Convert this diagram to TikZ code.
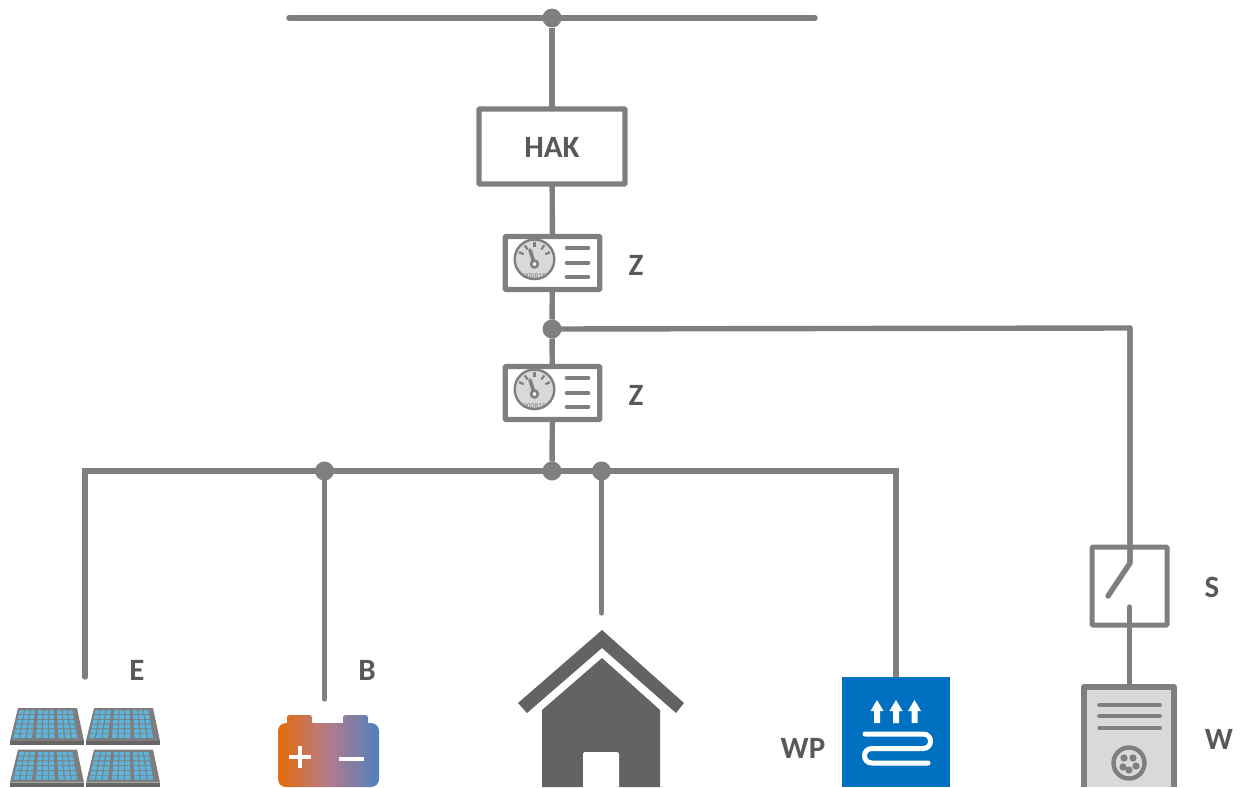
\documentclass[tikz,border=0pt]{standalone}
\usepackage{fontspec}
\setmainfont{Carlito}
\definecolor{wire}{HTML}{7F7F7F}
\definecolor{lbl}{HTML}{595959}
\definecolor{housec}{HTML}{636363}
\definecolor{lightg}{HTML}{D9D9D9}
\definecolor{hpblue}{HTML}{0070C0}
\definecolor{cellb}{HTML}{5DB5DE}
\definecolor{panelg}{HTML}{7E7E7E}
\definecolor{paneld}{HTML}{666666}
\definecolor{batL}{HTML}{E46C0A}
\definecolor{batM}{HTML}{B37B8B}
\definecolor{batR}{HTML}{4F81BD}
\tikzset{
  wireline/.style={draw=wire,line width=5.4pt},
  dot/.style={circle,fill=wire,minimum size=19pt,inner sep=0pt,outer sep=0pt},
  boxnode/.style={draw=wire,line width=5.4pt,fill=white,inner sep=0pt,outer sep=0pt,rounded corners=1pt},
  lab/.style={text=lbl,font=\fontsize{31}{31}\selectfont\bfseries,inner sep=0pt},
  whiteline/.style={draw=white,line width=5pt,line cap=round},
  thinbar/.style={draw=wire,line width=3.6pt,line cap=round},
  meter/.pic={
    \draw[draw=wire,line width=2.4pt,fill=lightg] (-18,-3.7) circle[radius=19.8pt];
    \foreach \a in {-65,-35,0,35,65}
      \draw[draw=wire,line width=2.2pt] ({-18+17*sin(\a)},{-3.7-17*cos(\a)}) -- ({-18+12*sin(\a)},{-3.7-12*cos(\a)});
    \draw[draw=wire,line width=3.6pt,line cap=round] (-18,1) -- (-22.5,-13);
    \draw[draw=wire,line width=2.6pt,fill=white] (-18,1) circle[radius=3.4pt];
    \node[text=wire,font=\fontsize{7.5}{7.5}\selectfont,inner sep=0pt] at (-18,13.2) {000815};
    \foreach \yy in {-15,0,14}
      \draw[thinbar] (14,\yy) -- (36,\yy);
  },
  solar/.pic={
    \fill[panelg] (8,0) -- (67,0) -- (74,33) -- (0,33) -- cycle;
    \fill[paneld] (0,33) rectangle (74,37);
    \foreach \c in {0,...,8} \foreach \r in {0,...,5} {
      \pgfmathsetmacro{\ua}{0.035+(\c*0.092)+floor(\c/3)*0.035}
      \pgfmathsetmacro{\ub}{\ua+0.074}
      \pgfmathsetmacro{\va}{0.07+\r*0.145}
      \pgfmathsetmacro{\vb}{\va+0.115}
      \fill[cellb]
        ({8-8*\va+\ua*(59+15*\va)},{33*\va}) --
        ({8-8*\va+\ub*(59+15*\va)},{33*\va}) --
        ({8-8*\vb+\ub*(59+15*\vb)},{33*\vb}) --
        ({8-8*\vb+\ua*(59+15*\vb)},{33*\vb}) -- cycle;
    }
  },
}
\begin{document}
\begin{tikzpicture}[x=1pt,y=-1pt]
\useasboundingbox (0,0) rectangle (1244,787);
% named points
\coordinate (busL) at (289,18);
\coordinate (busR) at (815,18);
\node[dot] (top) at (552,18) {};
\node[boxnode,minimum width=146pt,minimum height=75pt] (hak) at (552,146.5) {};
\node[lab] (haktxt) at (552,147) {HAK};
\node[boxnode,minimum width=94.5pt,minimum height=53pt] (m1) at (552.5,263) {};
\node[boxnode,minimum width=94.5pt,minimum height=53pt] (m2) at (552.5,393) {};
\node[dot] (j1) at (552,329) {};
\node[dot] (j2) at (552,471) {};
\node[dot] (j3) at (324.5,471) {};
\node[dot] (j4) at (601.5,471) {};
\coordinate (cornerR) at (1130,328);
\coordinate (swIn) at (1130,563);
\coordinate (swBlade) at (1108,596);
\coordinate (swOut) at (1129.5,607);
\coordinate (wTop) at (1129.5,687);
\coordinate (barL) at (85,471);
\coordinate (barR) at (896,471);
\coordinate (pvEnd) at (85,677);
\coordinate (batEnd) at (324.5,699);
\coordinate (houseEnd) at (601.5,613);
\coordinate (hpTop) at (896,679);
% connectors
\draw[wireline,line cap=round] (busL) -- (busR);
\draw[wireline] (top) -- (hak);
\draw[wireline] (hak) -- (m1);
\draw[wireline] (m1) -- (j1);
\draw[wireline] (j1) -- (m2);
\draw[wireline] (m2) -- (j2);
\draw[wireline,line join=round] (j1.center) -- (cornerR) -- (swIn);
\draw[wireline,line cap=round] (pvEnd) -- (barL) -- (barR) -- (hpTop);
\draw[wireline,line cap=round] (j3) -- (batEnd);
\draw[wireline,line cap=round] (j4) -- (houseEnd);
% meters
\pic at (m1) {meter};
\pic at (m2) {meter};
% switch
\node[draw=wire,line width=5pt,inner sep=0pt,outer sep=0pt,rounded corners=1pt,minimum width=75pt,minimum height=78pt] (sw) at (1129.5,586) {};
\draw[wireline,line cap=round,line join=round] (cornerR) -- (swIn) -- (swBlade);
% wall box
\fill[lightg] (1084,687) rectangle (1174,787);
\draw[draw=wire,line width=5.4pt,line join=round] (1084,787) -- (1084,687) -- (1174,687) -- (1174,787);
\draw[wireline,line cap=round] (swOut) -- (wTop);
\foreach \yy in {705,716,728} \draw[thinbar] (1099,\yy) -- (1160,\yy);
\draw[draw=wire,line width=4.4pt,fill=lightg] (1129,763) circle[radius=15.5pt];
\foreach \px/\py in {1124/758,1133/758,1136/766,1129/770,1123/767}
  \fill[wire] (\px,\py) circle[radius=3.6pt];
% PV
\pic at (10,708) {solar};
\pic at (86,708) {solar};
\pic at (10,749.5) {solar};
\pic at (86,749.5) {solar};
% battery
\shade[left color=batL,right color=batR,middle color=batM]
  (286,787) [rounded corners=8pt] -- (278,787) -- (278,723) [rounded corners=0pt] -- (287,723)
  [rounded corners=2.5pt] -- (287,715) -- (312,715) [rounded corners=0pt] -- (312,723)
  -- (343,723) [rounded corners=2.5pt] -- (343,715) -- (368,715) [rounded corners=0pt] -- (368,723)
  [rounded corners=8pt] -- (379,723) -- (379,787) [sharp corners] -- (286,787) -- cycle;
\draw[draw=white,line width=3.6pt] (289,757) -- (311,757) (300,746) -- (300,768);
\draw[draw=white,line width=3.6pt] (339,759) -- (364,759);
% house
\fill[housec] (518,703) -- (602,630) -- (684,703) -- (676,713) -- (602,648) -- (527,713) -- cycle;
\fill[housec] (602,658) -- (660,710) -- (660,787) -- (542,787) -- (542,710) -- cycle;
\fill[white,rounded corners=1.5pt] (583,788) -- (583,752) -- (619,752) -- (619,788) -- cycle;
% heat pump
\fill[hpblue] (842,677) rectangle (950,787);
\foreach \ax in {877,896,914.5}
  \fill[white] (\ax,700) -- (\ax+6.5,711) -- (\ax+3,711) -- (\ax+3,723) -- (\ax-3,723) -- (\ax-3,711) -- (\ax-6.5,711) -- cycle;
\draw[whiteline] (865,734) -- (923,734) .. controls (933,734) and (933,748.5) .. (923,748.5) -- (872,748.5) .. controls (862,748.5) and (862,763) .. (872,763) -- (928,763);
% labels
\node[lab] (z1) at (636,265) {Z};
\node[lab] (z2) at (636,395) {Z};
\node[lab] (s) at (1212,587) {S};
\node[lab] (w) at (1219,739) {W};
\node[lab] (e) at (137,670) {E};
\node[lab] (b) at (367,670) {B};
\node[lab] (wp) at (803,748) {WP};
\end{tikzpicture}
\end{document}
